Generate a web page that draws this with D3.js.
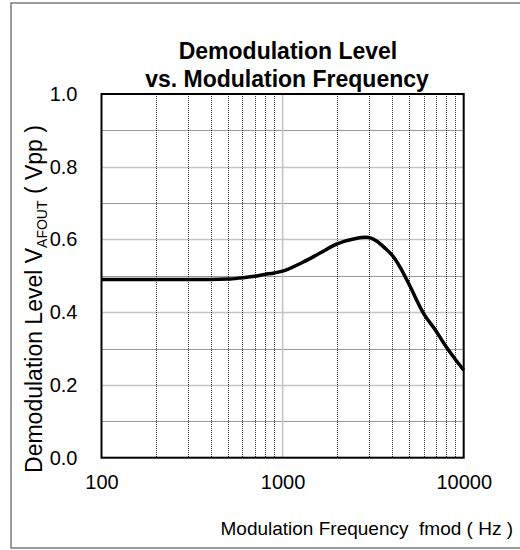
<!DOCTYPE html>
<html><head><meta charset="utf-8">
<script src="https://cdn.jsdelivr.net/npm/d3@7"></script>
<style>body{margin:0;background:#fff}svg{display:block}text{font-family:"Liberation Sans",Arial,sans-serif;fill:#000}</style>
</head><body>
<script>
const freqs  = [100,200,300,400,500,600,700,800,900,1000,1300,1600,2000,2500,2900,3300,3700,4100,4500,5000,6000,7000,8000,9000,10000];
const levels = [0.490,0.490,0.490,0.490,0.491,0.495,0.499,0.504,0.508,0.513,0.538,0.562,0.588,0.602,0.606,0.596,0.575,0.552,0.520,0.476,0.397,0.350,0.305,0.270,0.241];
const xTickLabels = ["100","1000","10000"];
const xTicks = [100,1000,10000];
const yTicks = [0,0.2,0.4,0.6,0.8,1.0];
const yMinor = [0.1,0.3,0.5,0.7,0.9];
const xMinor = [200,300,400,500,600,700,800,900,2000,3000,4000,5000,6000,7000,8000,9000];

const W=520,H=550;
const svg=d3.select("body").append("svg").attr("width",W).attr("height",H);
svg.append("rect").attr("x",11).attr("y",3).attr("width",515).attr("height",545)
  .attr("fill","none").attr("stroke","#666").attr("stroke-width",1.3);

const L=101.5,R=463.7,T=94,B=457.7;
const x=d3.scaleLog().domain([100,10000]).range([L,R]);
const y=d3.scaleLinear().domain([0,1]).range([B,T]);
const px=v=>Math.round(v)+0.5;
const g=svg.append("g");

// grid
g.selectAll(".ym").data(yMinor).join("line").attr("x1",L).attr("x2",R)
  .attr("y1",d=>px(y(d))).attr("y2",d=>px(y(d))).attr("stroke","#333").attr("stroke-width",1).attr("stroke-dasharray","1,1");
g.selectAll(".yM").data(yTicks.slice(1,-1)).join("line").attr("x1",L).attr("x2",R)
  .attr("y1",d=>px(y(d))).attr("y2",d=>px(y(d))).attr("stroke","#c4c4c4").attr("stroke-width",1.3);
g.selectAll(".xm").data(xMinor).join("line").attr("y1",T).attr("y2",B)
  .attr("x1",d=>px(x(d))).attr("x2",d=>px(x(d))).attr("stroke","#333").attr("stroke-width",1).attr("stroke-dasharray","1,1");
g.selectAll(".xM").data([1000]).join("line").attr("y1",T).attr("y2",B)
  .attr("x1",d=>x(d)).attr("x2",d=>x(d)).attr("stroke","#c4c4c4").attr("stroke-width",1.6);

// axes (labels only)
const xa=svg.append("g").attr("transform",`translate(0,${B})`)
  .call(d3.axisBottom(x).tickValues(xTicks).tickFormat((d,i)=>xTickLabels[i]).tickSize(0).tickPadding(17));
xa.select(".domain").remove();
xa.selectAll("text").attr("font-size",20).attr("font-family","Liberation Sans, Arial").attr("fill","#000");
const ya=svg.append("g").attr("transform",`translate(${L},0)`)
  .call(d3.axisLeft(y).tickValues(yTicks).tickFormat(d3.format(".1f")).tickSize(0).tickPadding(24));
ya.select(".domain").remove();
ya.selectAll("text").attr("font-size",20).attr("font-family","Liberation Sans, Arial").attr("fill","#000");

// curve
const line=d3.line().x((d,i)=>x(freqs[i])).y(d=>y(d)).curve(d3.curveMonotoneX);
g.append("path").datum(levels).attr("d",line).attr("fill","none").attr("stroke","#000").attr("stroke-width",3.5).attr("stroke-linejoin","round");

// plot border
svg.append("rect").attr("x",L).attr("y",T).attr("width",R-L).attr("height",B-T)
  .attr("fill","none").attr("stroke","#000").attr("stroke-width",2);

// title
const t=svg.append("text").attr("text-anchor","middle").attr("font-weight","bold").attr("font-size",23);
t.append("tspan").attr("x",288).attr("y",59).text("Demodulation Level");
t.append("tspan").attr("x",287).attr("y",87).text("vs. Modulation Frequency");

// x label
svg.append("text").attr("x",513).attr("y",535).attr("text-anchor","end").attr("font-size",19)
  .text("Modulation Frequency\u00a0 fmod ( Hz )");

// y label
const yl=svg.append("text").attr("transform","translate(42,299) rotate(-90)").attr("text-anchor","middle").attr("font-size",23);
yl.append("tspan").text("Demodulation Level V");
yl.append("tspan").attr("font-size",14).attr("dy",5).text("AFOUT");
yl.append("tspan").attr("dy",-5).text("\u00a0(\u00a0Vpp\u00a0)");
</script>
</body></html>
